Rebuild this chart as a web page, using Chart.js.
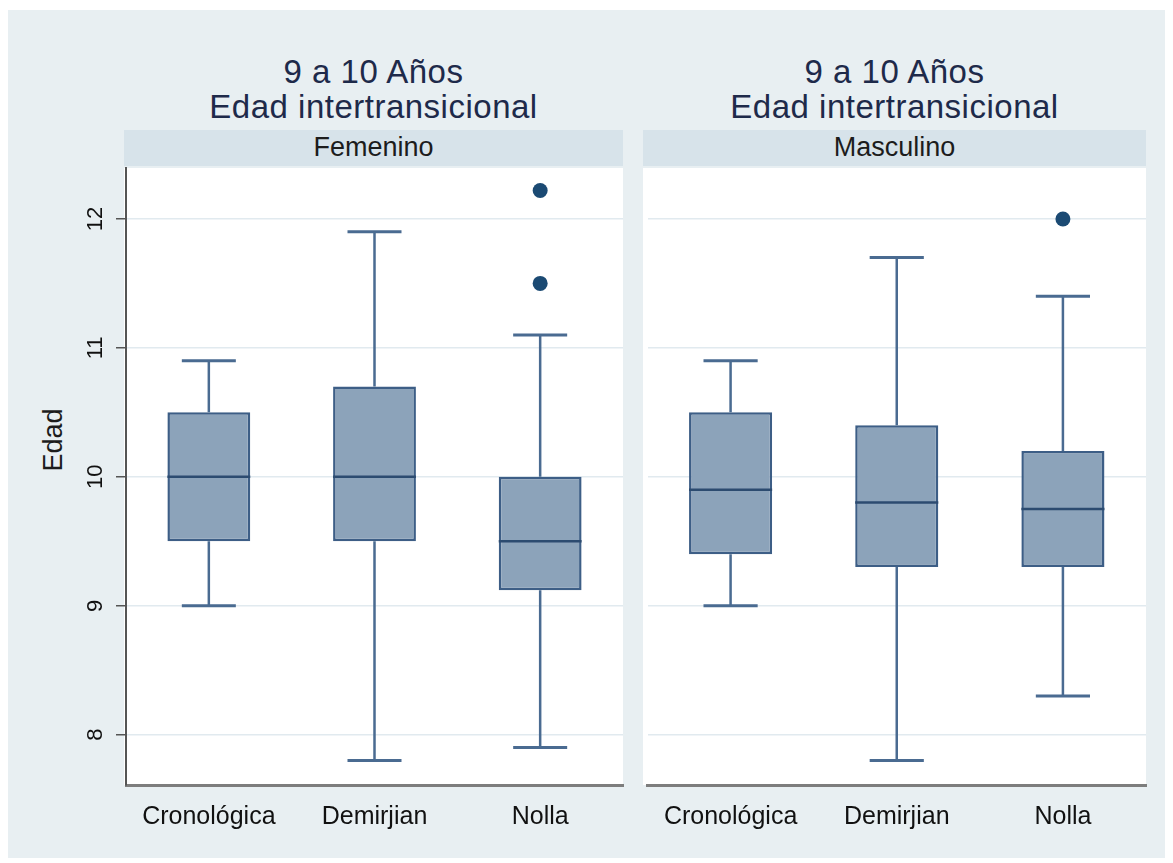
<!DOCTYPE html>
<html>
<head>
<meta charset="utf-8">
<title>Edad intertransicional</title>
<script src="https://cdn.jsdelivr.net/npm/chart.js@4.4.1/dist/chart.umd.min.js"></script>
<style>
  html, body { margin: 0; padding: 0; background: #ffffff; }
  #page { position: relative; width: 1173px; height: 863px; overflow: hidden; background: #ffffff;
          font-family: "Liberation Sans", Arial, sans-serif; }
  #frame { position: absolute; left: 8px; top: 10px; width: 1157px; height: 848px; background: #e8eff2; }
  .panel { position: absolute; top: 168px; height: 617px; background: #ffffff; }
  .strip { position: absolute; top: 130px; height: 36px; background: #d7e3ea; }
  .stripText { position: absolute; top: 134px; font-size: 27px; line-height: 27px; color: #1c1c1c;
               text-align: center; white-space: nowrap; }
  .t { position: absolute; font-size: 33px; line-height: 33px; letter-spacing: 0.5px; color: #1e2a4a;
       text-align: center; white-space: nowrap; }
  #ytitle { position: absolute; left: 53px; top: 440px; font-size: 27px; line-height: 27px; color: #1c1c1c;
            transform: translate(-50%, -50%) rotate(-90deg); white-space: nowrap; }
  canvas { position: absolute; top: 0; }
</style>
</head>
<body>
<div id="page">
  <div id="frame"></div>

  <div class="panel" style="left:124px;width:499px;"></div>
  <div class="panel" style="left:643px;width:503px;"></div>

  <div class="t" style="left:124px;width:499px;top:55px;">9 a 10 Años</div>
  <div class="t" style="left:124px;width:499px;top:90px;">Edad intertransicional</div>
  <div class="t" style="left:643px;width:503px;top:55px;">9 a 10 Años</div>
  <div class="t" style="left:643px;width:503px;top:90px;">Edad intertransicional</div>

  <div class="strip" style="left:124px;width:499px;"></div>
  <div class="strip" style="left:643px;width:503px;"></div>
  <div class="stripText" style="left:124px;width:499px;">Femenino</div>
  <div class="stripText" style="left:643px;width:503px;">Masculino</div>

  <div id="ytitle">Edad</div>

  <canvas id="femChart" width="640" height="863" style="left:0px;width:640px;height:863px;"></canvas>
  <canvas id="masChart" width="533" height="863" style="left:640px;width:533px;height:863px;"></canvas>
</div>

<script>
// Categories and axis ticks
const categories = ['Cronológica', 'Demirjian', 'Nolla'];
const yTickValues = [8, 9, 10, 11, 12];
const yMin = 7.61;
const yMax = 12.395;

// Femenino: whisker ends, quartiles, medians, outside values
const femLow    = [9.0, 7.8, 7.9];
const femQ1     = [9.5, 9.5, 9.12];
const femMedian = [10.0, 10.0, 9.5];
const femQ3     = [10.5, 10.7, 10.0];
const femHigh   = [10.9, 11.9, 11.1];
const femOutliers = [{ x: 'Nolla', y: 12.22 }, { x: 'Nolla', y: 11.5 }];

// Masculino
const masLow    = [9.0, 7.8, 8.3];
const masQ1     = [9.4, 9.3, 9.3];
const masMedian = [9.9, 9.8, 9.75];
const masQ3     = [10.5, 10.4, 10.2];
const masHigh   = [10.9, 11.7, 11.4];
const masOutliers = [{ x: 'Nolla', y: 12.0 }];

// Whiskers (behind the boxes) and median lines (on top of them)
const boxPlotLines = {
  id: 'boxPlotLines',
  beforeDatasetsDraw(chart, args, opts) {
    const { ctx } = chart;
    const x = chart.scales.x, y = chart.scales.y;
    const band = (x.getPixelForValue(1) - x.getPixelForValue(0));
    const capHalf = band * 0.163;
    ctx.save();
    ctx.strokeStyle = '#4a6b91';
    ctx.lineCap = 'butt';
    opts.low.forEach((lo, i) => {
      const cx = x.getPixelForValue(i);
      ctx.lineWidth = 2.5;
      ctx.beginPath();
      ctx.moveTo(cx, y.getPixelForValue(lo));
      ctx.lineTo(cx, y.getPixelForValue(opts.q1[i]));
      ctx.moveTo(cx, y.getPixelForValue(opts.q3[i]));
      ctx.lineTo(cx, y.getPixelForValue(opts.high[i]));
      ctx.stroke();
      ctx.lineWidth = 3;
      ctx.beginPath();
      ctx.moveTo(cx - capHalf, y.getPixelForValue(lo));
      ctx.lineTo(cx + capHalf, y.getPixelForValue(lo));
      ctx.moveTo(cx - capHalf, y.getPixelForValue(opts.high[i]));
      ctx.lineTo(cx + capHalf, y.getPixelForValue(opts.high[i]));
      ctx.stroke();
    });
    ctx.restore();
  },
  afterDatasetsDraw(chart, args, opts) {
    const { ctx } = chart;
    const x = chart.scales.x, y = chart.scales.y;
    const band = (x.getPixelForValue(1) - x.getPixelForValue(0));
    const half = band * 0.25;
    ctx.save();
    ctx.strokeStyle = '#2c4b70';
    ctx.lineWidth = 2.5;
    opts.median.forEach((m, i) => {
      const cx = x.getPixelForValue(i);
      const py = y.getPixelForValue(m);
      ctx.beginPath();
      ctx.moveTo(cx - half, py);
      ctx.lineTo(cx + half, py);
      ctx.stroke();
    });
    ctx.restore();
  }
};

function makePanel(canvasId, low, q1, median, q3, high, outliers, withAxis, padding) {
  return new Chart(document.getElementById(canvasId), {
    data: {
      labels: categories,
      datasets: [
        {
          type: 'bar',
          data: q1.map((v, i) => [v, q3[i]]),
          backgroundColor: '#8ca3ba',
          borderColor: '#3d5e86',
          borderWidth: 2.5,
          borderSkipped: false,
          barPercentage: 0.5,
          categoryPercentage: 1.0
        },
        {
          type: 'line',
          data: outliers,
          showLine: false,
          pointRadius: 7.5,
          pointBackgroundColor: '#1b4a73',
          pointBorderWidth: 0
        }
      ]
    },
    options: {
      responsive: false,
      animation: false,
      events: [],
      layout: { padding: padding },
      plugins: {
        legend: { display: false },
        tooltip: { enabled: false },
        boxPlotLines: { low, q1, median, q3, high }
      },
      scales: {
        x: {
          type: 'category',
          offset: true,
          grid: { display: false },
          border: { display: true, color: '#7d7d7d', width: 3 },
          ticks: {
            color: '#111111',
            font: { family: '"Liberation Sans", Arial, sans-serif', size: 25 },
            padding: 9,
            maxRotation: 0
          },
          afterFit(scale) { scale.height = 78; }
        },
        y: {
          type: 'linear',
          min: yMin,
          max: yMax,
          afterBuildTicks(scale) { scale.ticks = yTickValues.map(v => ({ value: v })); },
          grid: {
            color: '#e1eaef',
            lineWidth: 1.5,
            drawTicks: withAxis,
            tickLength: 10,
            tickColor: '#555555',
            tickWidth: 1.5
          },
          border: { display: withAxis, color: '#555555', width: 2 },
          ticks: {
            display: withAxis,
            color: '#111111',
            font: { family: '"Liberation Sans", Arial, sans-serif', size: 22 },
            minRotation: 90,
            maxRotation: 90,
            crossAlign: 'center',
            padding: 8
          },
          afterFit(scale) { scale.width = withAxis ? 126 : 0; }
        }
      }
    },
    plugins: [boxPlotLines]
  });
}

makePanel('femChart', femLow, femQ1, femMedian, femQ3, femHigh, femOutliers, true,
          { left: 0, right: 17, top: 168, bottom: 0 });
makePanel('masChart', masLow, masQ1, masMedian, masQ3, masHigh, masOutliers, false,
          { left: 3, right: 27, top: 168, bottom: 0 });
</script>
</body>
</html>
